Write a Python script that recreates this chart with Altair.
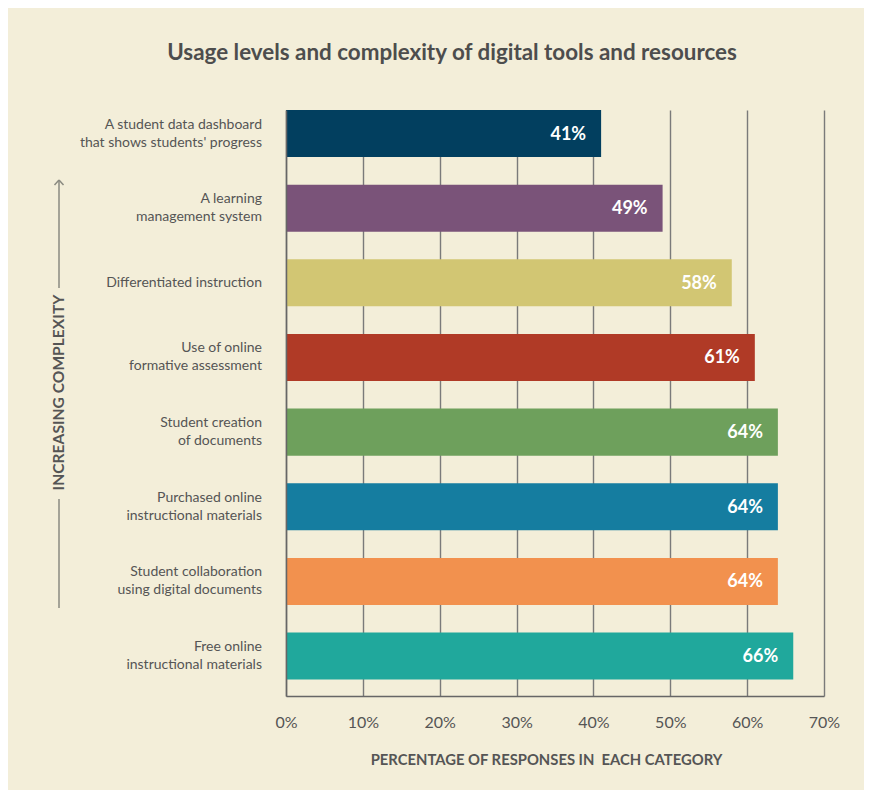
import altair as alt
import pandas as pd

categories = [
    "A student data dashboard\nthat shows students' progress",
    "A learning\nmanagement system",
    "Differentiated instruction",
    "Use of online\nformative assessment",
    "Student creation\nof documents",
    "Purchased online\ninstructional materials",
    "Student collaboration\nusing digital documents",
    "Free online\ninstructional materials",
]
values = [41, 49, 58, 61, 64, 64, 64, 66]
colors = ["#023f5f", "#7a5379", "#d2c673", "#b03a26", "#6ea05c", "#157da0", "#f2914e", "#20a89c"]
tick_values = [0, 10, 20, 30, 40, 50, 60, 70]

df = pd.DataFrame({"cat": categories, "val": values,
                   "lbl": [f"{v}%" for v in values]})
one = pd.DataFrame({"a": [0]})

FONT = "Lato"
TXT = "#555555"

yscale = alt.Scale(domain=categories, paddingInner=0.37, paddingOuter=0.11, align=0)
y_enc = alt.Y("cat:N", scale=yscale, sort=categories,
              axis=alt.Axis(labels=False, ticks=False, title=None, domain=True,
                            domainColor="#666666", domainWidth=1.5, grid=False, zindex=1))

bars = alt.Chart(df).mark_bar().encode(
    x=alt.X("val:Q", scale=alt.Scale(domain=[0, 70], nice=False),
            axis=alt.Axis(values=tick_values, labelExpr="datum.value + '%'",
                          title="PERCENTAGE OF RESPONSES IN\u00a0 EACH CATEGORY",
                          grid=True, gridColor="#7a7a7a", gridWidth=1.4,
                          domainColor="#666666", domainWidth=1.5,
                          ticks=False, labelPadding=18, labelFontSize=16,
                          labelFlush=False, labelOverlap=False,
                          labelColor=TXT, labelFont=FONT,
                          titleFont=FONT, titleFontSize=14.8, titleFontWeight="bold",
                          titleColor=TXT, titlePadding=22, titleX=260, titleAlign="center")),
    y=y_enc,
    color=alt.Color("cat:N", scale=alt.Scale(domain=categories, range=colors), legend=None),
)

val_text = alt.Chart(df).mark_text(align="right", baseline="middle", dx=-15, dy=1,
                                   font=FONT, fontSize=18, fontWeight="bold",
                                   color="white").encode(
    x="val:Q", y=alt.Y("cat:N", sort=categories), text="lbl:N")

label_style = dict(align="right", baseline="middle", lineBreak="\n", lineHeight=18,
                   font=FONT, fontSize=14, color=TXT)
cat_text_two = alt.Chart(df).transform_filter(
    "indexof(datum.cat, '\\n') >= 0"
).mark_text(dy=-9, **label_style).encode(
    x=alt.value(-24), y=alt.Y("cat:N", sort=categories), text="cat:N")
cat_text_one = alt.Chart(df).transform_filter(
    "indexof(datum.cat, '\\n') < 0"
).mark_text(**label_style).encode(
    x=alt.value(-24), y=alt.Y("cat:N", sort=categories), text="cat:N")

side_text = alt.Chart(one).mark_text(angle=270, align="center", baseline="middle",
                                     font=FONT, fontSize=15.6, fontWeight="bold",
                                     color=TXT).encode(
    x=alt.value(-227), y=alt.value(282.5), text=alt.value("INCREASING COMPLEXITY"))

line_style = dict(color="#8a8a80", strokeWidth=1.5)
line_top = alt.Chart(one).mark_rule(**line_style).encode(
    x=alt.value(-227), y=alt.value(70), y2=alt.value(178))
line_bot = alt.Chart(one).mark_rule(**line_style).encode(
    x=alt.value(-227), y=alt.value(389), y2=alt.value(498))
head_l = alt.Chart(one).mark_rule(**line_style).encode(
    x=alt.value(-227), x2=alt.value(-231.5), y=alt.value(70), y2=alt.value(75))
head_r = alt.Chart(one).mark_rule(**line_style).encode(
    x=alt.value(-227), x2=alt.value(-222.5), y=alt.value(70), y2=alt.value(75))

chart = alt.layer(bars, val_text, cat_text_two, cat_text_one, side_text,
                  line_top, line_bot, head_l, head_r).properties(
    width=538, height=586,
    title=alt.TitleParams("Usage levels and complexity of digital tools and resources",
                          font=FONT, fontSize=22.4, fontWeight="bold", color="#4d4d4d",
                          anchor="middle", dx=-103, offset=46),
    autosize=alt.AutoSizeParams(type="none"),
    padding={"left": 278, "top": 102, "right": 40, "bottom": 94},
    background="#f3eed9",
).configure_view(stroke=None)

chart.save("out.html", embed_options={"renderer": "svg", "actions": False})
